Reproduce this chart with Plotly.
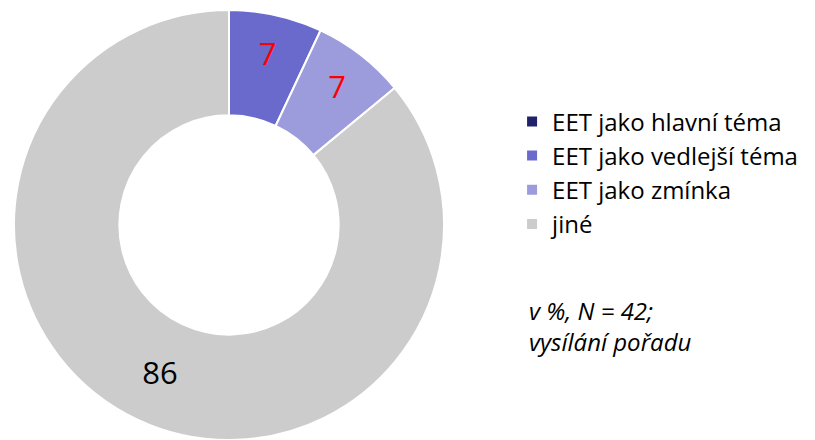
import plotly.graph_objects as go

categories = ["EET jako hlavní téma", "EET jako vedlejší téma", "EET jako zmínka", "jiné"]
values = [0, 7, 7, 86]
labels_text = ["", "7", "7", "86"]
colors = ["#22226B", "#6A6ACC", "#9C9CDD", "#CCCCCC"]
text_colors = ["red", "red", "red", "black"]
note = "v %, N = 42;<br>vysílání pořadu"

FONT = "Open Sans"

fig = go.Figure(go.Pie(
    labels=categories,
    values=values,
    text=labels_text,
    textinfo="text",
    textposition="inside",
    insidetextorientation="horizontal",
    textfont=dict(family=FONT, size=31, color=text_colors),
    marker=dict(colors=colors, line=dict(color="white", width=2)),
    sort=False,
    direction="clockwise",
    rotation=0,
    hole=0.51,
    domain=dict(x=[6 / 815, 436 / 815], y=[8 / 440, 438 / 440]),
    showlegend=True,
))

fig.update_layout(
    width=815, height=440,
    margin=dict(l=0, r=0, t=0, b=0),
    paper_bgcolor="white",
    plot_bgcolor="white",
    font=dict(family=FONT, size=24, color="black"),
    legend=dict(
        x=0.6185, y=0.7925, xanchor="left", yanchor="top",
        font=dict(family=FONT, size=24, color="black"),
        traceorder="normal",
    ),
    annotations=[dict(
        text=note, x=0.637, y=0.354, xref="paper", yref="paper",
        xanchor="left", yanchor="top", align="left", showarrow=False,
        font=dict(family=FONT, size=24, color="black", style="italic"),
    )],
)

fig.write_html("out.html")
